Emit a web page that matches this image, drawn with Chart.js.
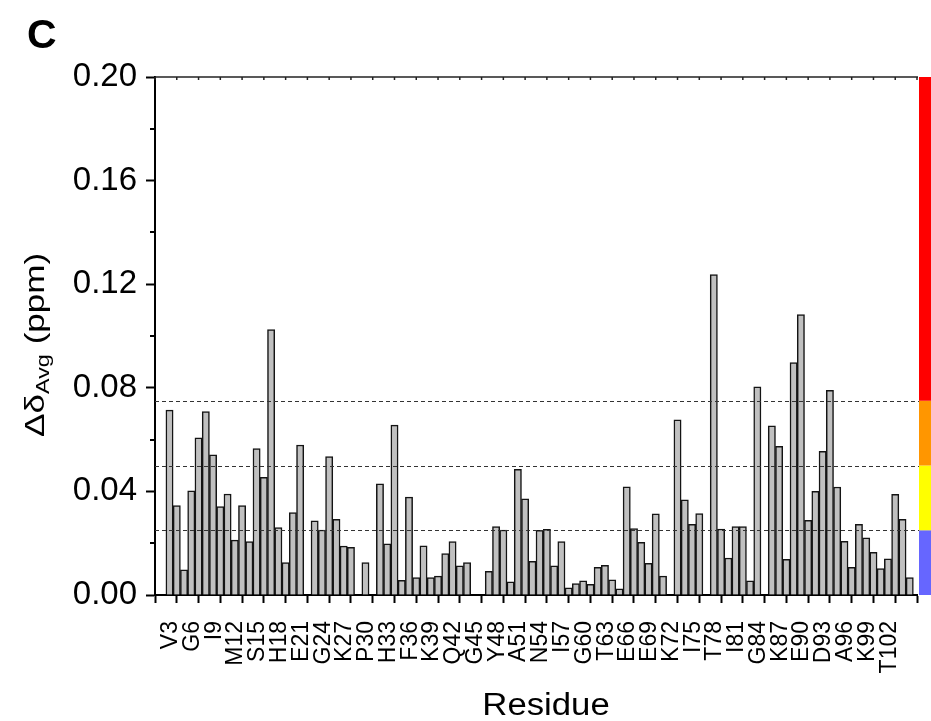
<!DOCTYPE html>
<html>
<head>
<meta charset="utf-8">
<script src="https://cdn.jsdelivr.net/npm/chart.js@4/dist/chart.umd.min.js"></script>
<style>
  html, body { margin: 0; padding: 0; background: #ffffff; }
  #wrap { width: 931px; height: 721px; position: relative; }
</style>
</head>
<body>
<div id="wrap"><canvas id="shiftChart" width="931" height="721"></canvas></div>
<script>
// Residue numbers along the sequence
const residues = [
  1, 2, 3, 4, 5, 6, 7, 8, 9, 10, 11, 12, 13, 14, 15, 16, 17, 18, 19, 20,
  21, 22, 23, 24, 25, 26, 27, 28, 29, 30, 31, 32, 33, 34, 35, 36, 37, 38, 39, 40,
  41, 42, 43, 44, 45, 46, 47, 48, 49, 50, 51, 52, 53, 54, 55, 56, 57, 58, 59, 60,
  61, 62, 63, 64, 65, 66, 67, 68, 69, 70, 71, 72, 73, 74, 75, 76, 77, 78, 79, 80,
  81, 82, 83, 84, 85, 86, 87, 88, 89, 90, 91, 92, 93, 94, 95, 96, 97, 98, 99, 100,
  101, 102, 103, 104
];

// Average chemical shift perturbation (ppm); null = not assigned
const shifts = [
  null, 0.0714, 0.0345, 0.0097, 0.0402, 0.0607, 0.0708, 0.0541, 0.0341, 0.0390,
  0.0212, 0.0345, 0.0206, 0.0565, 0.0454, 0.1025, 0.0260, 0.0125, 0.0318, 0.0579,
  null, 0.0286, 0.0251, 0.0534, 0.0292, 0.0189, 0.0184, null, 0.0125, null,
  0.0429, 0.0198, 0.0656, 0.0057, 0.0378, 0.0067, 0.0190, 0.0067, 0.0073, 0.0160,
  0.0206, 0.0113, 0.0125, null, null, 0.0091, 0.0264, 0.0251, 0.0051, 0.0485,
  0.0371, 0.0130, 0.0250, 0.0254, 0.0113, 0.0206, 0.0028, 0.0044, 0.0055, 0.0041,
  0.0107, 0.0115, 0.0059, 0.0024, 0.0418, 0.0256, 0.0203, 0.0122, 0.0313, 0.0073,
  null, 0.0676, 0.0367, 0.0273, 0.0314, null, 0.1237, 0.0255, 0.0143, 0.0264,
  0.0264, 0.0055, 0.0804, null, 0.0653, 0.0574, 0.0138, 0.0897, 0.1083, 0.0288,
  0.0400, 0.0555, 0.0790, 0.0417, 0.0207, 0.0107, 0.0273, 0.0221, 0.0165, 0.0102,
  0.0140, 0.0389, 0.0292, 0.0067
];

// Labelled residues on the x axis
const tickResidues = [3, 6, 9, 12, 15, 18, 21, 24, 27, 30, 33, 36, 39, 42, 45, 48, 51,
  54, 57, 60, 63, 66, 69, 72, 75, 78, 81, 84, 87, 90, 93, 96, 99, 102];
const tickLabels = ['V3', 'G6', 'I9', 'M12', 'S15', 'H18', 'E21', 'G24', 'K27', 'P30',
  'H33', 'F36', 'K39', 'Q42', 'G45', 'Y48', 'A51', 'N54', 'I57', 'G60', 'T63', 'E66',
  'E69', 'K72', 'I75', 'T78', 'I81', 'G84', 'K87', 'E90', 'D93', 'A96', 'K99', 'T102'];

// Perturbation thresholds (dashed lines) and the colour key bands
const thresholds = [0.025, 0.05, 0.075];
const bandLimits = [0, 0.025, 0.05, 0.075, 0.2];
const bandColors = ['#6666ff', '#ffff00', '#ff9600', '#ff0000'];
const minorYTicks = [0.02, 0.06, 0.10, 0.14, 0.18];

const FONT = '"Liberation Sans", Arial, Helvetica, sans-serif';

const barPoints = residues
  .map((r, i) => ({ x: r, y: shifts[i] }))
  .filter(p => p.y !== null);

const decor = {
  id: 'decor',
  afterDatasetsDraw(chart) {
    const { ctx, chartArea: a, scales: { y } } = chart;
    ctx.save();
    ctx.strokeStyle = '#333';
    ctx.lineWidth = 1;
    ctx.setLineDash([4, 3]);
    thresholds.forEach(t => {
      const py = Math.round(y.getPixelForValue(t)) + 0.5;
      ctx.beginPath();
      ctx.moveTo(a.left, py);
      ctx.lineTo(a.right + 2, py);
      ctx.stroke();
    });
    ctx.restore();
  },
  afterDraw(chart) {
    const { ctx, chartArea: a, scales: { x, y } } = chart;
    ctx.save();

    // colour key bar on the right
    const barLeft = a.right + 2;
    bandColors.forEach((c, i) => {
      const top = y.getPixelForValue(bandLimits[i + 1]);
      const bottom = y.getPixelForValue(bandLimits[i]);
      ctx.fillStyle = c;
      ctx.fillRect(barLeft, top, chart.width - barLeft, bottom - top);
    });

    // top frame line with small inward ticks
    ctx.strokeStyle = '#222';
    ctx.lineWidth = 1.5;
    ctx.beginPath();
    ctx.moveTo(a.left, a.top);
    ctx.lineTo(a.right + 1, a.top);
    ctx.stroke();
    x.ticks.forEach(t => {
      const px = x.getPixelForValue(t.value);
      ctx.beginPath();
      ctx.moveTo(px, a.top);
      ctx.lineTo(px, a.top + 3);
      ctx.stroke();
    });

    // minor ticks on the y axis
    ctx.strokeStyle = '#000';
    ctx.lineWidth = 2;
    minorYTicks.forEach(v => {
      const py = Math.round(y.getPixelForValue(v));
      ctx.beginPath();
      ctx.moveTo(a.left - 5, py);
      ctx.lineTo(a.left, py);
      ctx.stroke();
    });

    ctx.fillStyle = '#000';
    ctx.textBaseline = 'alphabetic';

    // panel letter
    ctx.textAlign = 'left';
    ctx.font = 'bold 41px ' + FONT;
    ctx.fillText('C', 27, 48);

    // x axis title
    ctx.save();
    ctx.translate(546, 715);
    ctx.scale(1.12, 1);
    ctx.textAlign = 'center';
    ctx.font = '31px ' + FONT;
    ctx.fillText('Residue', 0, 0);
    ctx.restore();

    // y axis title with subscript
    ctx.save();
    ctx.translate(44, 437);
    ctx.rotate(-Math.PI / 2);
    ctx.scale(1.3, 1);
    ctx.textAlign = 'left';
    let pos = 0;
    ctx.font = '27px ' + FONT;
    ctx.fillText('\u0394\u03B4', pos, 0);
    pos += ctx.measureText('\u0394\u03B4').width;
    ctx.font = '18px ' + FONT;
    ctx.fillText('Avg', pos, 5);
    pos += ctx.measureText('Avg').width;
    ctx.font = '27px ' + FONT;
    ctx.fillText(' (ppm)', pos, 0);
    ctx.restore();

    ctx.restore();
  }
};

new Chart(document.getElementById('shiftChart'), {
  type: 'bar',
  data: {
    datasets: [{
      data: barPoints,
      backgroundColor: '#c0c0c0',
      borderColor: '#141414',
      borderWidth: 1.5,
      barPercentage: 1,
      categoryPercentage: 1
    }]
  },
  options: {
    responsive: false,
    animation: false,
    devicePixelRatio: 1,
    layout: { padding: { top: 77, right: 14, left: 0, bottom: 0 } },
    plugins: { legend: { display: false }, tooltip: { enabled: false } },
    scales: {
      x: {
        type: 'linear',
        min: 0,
        max: 105,
        offset: false,
        ticks: {
          stepSize: 3,
          autoSkip: false,
          minRotation: 90,
          maxRotation: 90,
          padding: 18,
          labelOffset: -6,
          color: '#000',
          font: { family: FONT, size: 23 },
          callback: v => {
            const i = tickResidues.indexOf(Math.round(v));
            return i >= 0 ? tickLabels[i] : '';
          }
        },
        grid: { drawOnChartArea: false, offset: false, tickLength: 8, tickWidth: 2, tickColor: '#000' },
        border: { display: true, color: '#000', width: 2 },
        afterFit(scale) {
          scale.height = 126;
          scale.paddingLeft = 0;
          scale.paddingRight = 0;
        }
      },
      y: {
        min: 0,
        max: 0.2,
        ticks: {
          stepSize: 0.04,
          padding: 9,
          color: '#000',
          font: { family: FONT, size: 33 },
          callback: v => Number(v).toFixed(2)
        },
        grid: { drawOnChartArea: false, tickLength: 9, tickWidth: 2, tickColor: '#000' },
        border: { display: true, color: '#000', width: 2 },
        afterFit(scale) { scale.width = 155; }
      }
    }
  },
  plugins: [decor]
});
</script>
</body>
</html>
